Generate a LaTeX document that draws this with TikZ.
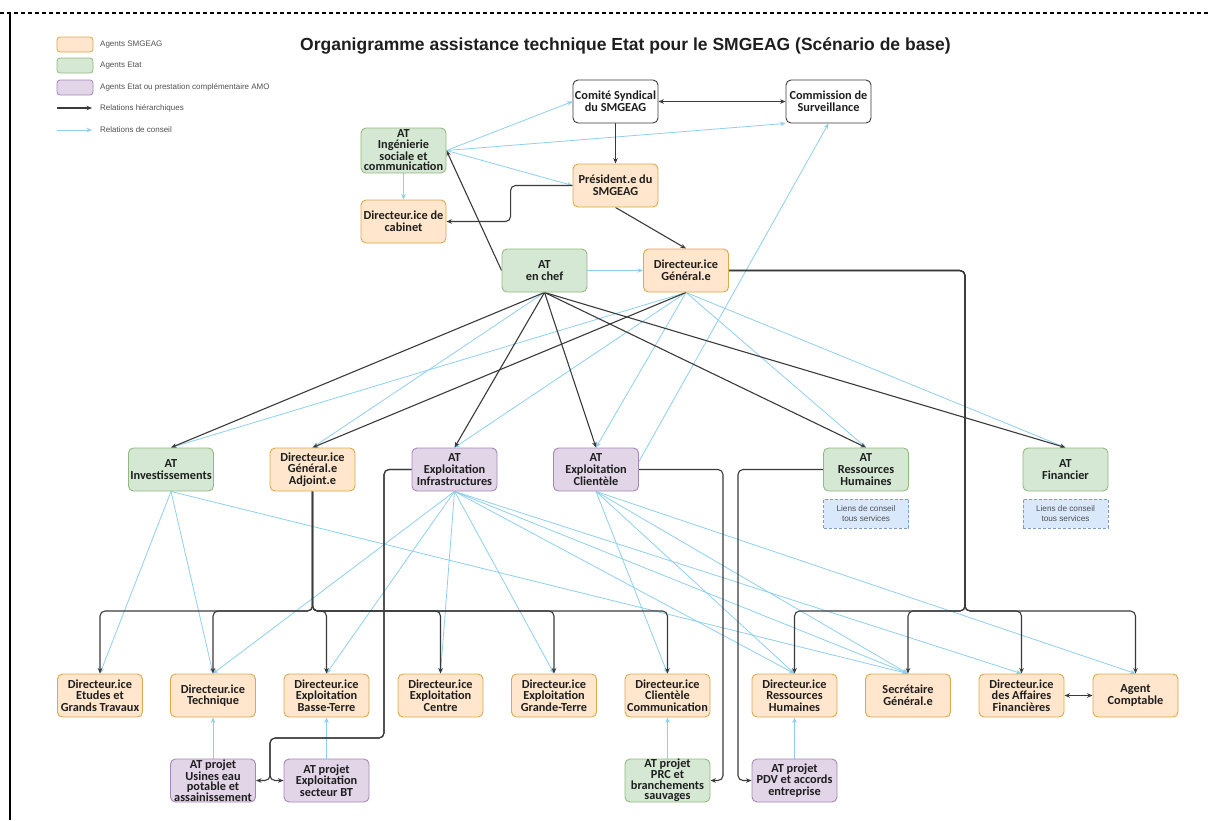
\documentclass[tikz,border=0pt]{standalone}
\usepackage{fontspec}
\setmainfont{Carlito}
\newfontfamily\arialf{Liberation Sans}
\usetikzlibrary{arrows.meta,calc}
\definecolor{orfill}{HTML}{FFE6CC}
\definecolor{ordraw}{HTML}{DCA94C}
\definecolor{grfill}{HTML}{D5E8D4}
\definecolor{grdraw}{HTML}{93BA7E}
\definecolor{prfill}{HTML}{E1D5E7}
\definecolor{prdraw}{HTML}{A686B5}
\definecolor{whdraw}{HTML}{3A3A3A}
\definecolor{lifill}{HTML}{DAE8FC}
\definecolor{lidraw}{HTML}{7C9CCB}
\definecolor{hiercol}{HTML}{3A3A3A}
\definecolor{bluecol}{HTML}{8ECFEE}
\definecolor{txtcol}{HTML}{1E1E1E}
\definecolor{legcol}{HTML}{505050}
\pgfdeclarelayer{bg}
\pgfsetlayers{bg,main}
\begin{document}
\begin{tikzpicture}[x=1pt,y=-1pt,
 nbox/.style={rectangle,rounded corners=5pt,minimum width=85pt,minimum height=43pt,inner sep=0pt,align=center,line width=0.9pt,text=txtcol,font=\bfseries\fontsize{12.3}{11.6}\selectfont},
 orng/.style={nbox,fill=orfill,draw=ordraw},
 grn/.style={nbox,fill=grfill,draw=grdraw},
 prp/.style={nbox,fill=prfill,draw=prdraw},
 wht/.style={nbox,fill=white,draw=whdraw},
 fourl/.style={font=\bfseries\fontsize{12.3}{10.6}\selectfont},
 liens/.style={rectangle,minimum width=85pt,minimum height=29pt,inner sep=0pt,align=center,fill=lifill,draw=lidraw,dash pattern=on 3pt off 2pt,line width=0.7pt,text=legcol,font=\arialf\fontsize{8.2}{10.5}\selectfont},
 hier/.style={draw=hiercol,line width=1.1pt,-{Stealth[length=5.5pt,width=4.5pt]}},
 dbl/.style={draw=hiercol,line width=1.1pt,{Stealth[length=5.5pt,width=4.5pt]}-{Stealth[length=5.5pt,width=4.5pt]}},
 cons/.style={draw=bluecol,line width=0.8pt,-{Stealth[length=5.5pt,width=4.5pt]}},
 legsw/.style={rectangle,rounded corners=3pt,minimum width=36pt,minimum height=15pt,inner sep=0pt,line width=0.8pt},
 legtxt/.style={anchor=west,inner sep=0pt,text=legcol,font=\arialf\fontsize{8}{9}\selectfont}
]
\useasboundingbox (0,0) rectangle (1209,820);

% frame of the screenshot
\draw[black,line width=1.8pt,dash pattern=on 4pt off 3pt] (0,13) -- (1209,13);
\draw[black,line width=1.8pt] (10,12) -- (10,820);

% title
\node[anchor=west,inner sep=0pt,text=txtcol,font=\arialf\bfseries\fontsize{17.5}{20}\selectfont] (title) at (300,46) {Organigramme assistance technique Etat pour le SMGEAG (Sc\'enario de base)};

% legend
\node[legsw,fill=orfill,draw=ordraw] (lg1) at (75,44.5) {};
\node[legsw,fill=grfill,draw=grdraw] (lg2) at (75,65.5) {};
\node[legsw,fill=prfill,draw=prdraw] (lg3) at (75,87.5) {};
\node[legtxt] (lt1) at (100,44.5) {Agents SMGEAG};
\node[legtxt] (lt2) at (100,65.5) {Agents Etat};
\node[legtxt] (lt3) at (100,87.5) {Agents Etat ou prestation compl\'ementaire AMO};
\node[legtxt] (lt4) at (100,108) {Relations hi\'erarchiques};
\node[legtxt] (lt5) at (100,130) {Relations de conseil};
\coordinate (la1) at (57,108); \coordinate (lb1) at (92,108);
\coordinate (la2) at (57,130); \coordinate (lb2) at (92,130);
\draw[hier] (la1) -- (lb1);
\draw[cons] (la2) -- (lb2);

% top nodes
\node[wht] (comite) at (615.5,101.5) {Comit\'e Syndical\\du SMGEAG};
\node[wht] (commission) at (828.5,101.5) {Commission de\\Surveillance};
\node[grn,fourl,minimum height=45pt] (inge) at (403.5,150.5) {AT\\Ing\'enierie\\sociale et\\communication};
\node[orng] (president) at (615.5,185.5) {Pr\'esident.e du\\SMGEAG};
\node[orng] (cabinet) at (403.5,221.5) {Directeur.ice de\\cabinet};
\node[grn] (chef) at (544.5,270.5) {AT\\en chef};
\node[orng] (dg) at (686,270.5) {Directeur.ice\\G\'en\'eral.e};

% second row
\node[grn] (invest) at (171,469.5) {AT\\Investissements};
\node[orng] (dga) at (312.5,469.5) {Directeur.ice\\G\'en\'eral.e\\Adjoint.e};
\node[prp] (infra) at (454.5,469.5) {AT\\Exploitation\\Infrastructures};
\node[prp] (client) at (596,469.5) {AT\\Exploitation\\Client\`ele};
\node[grn] (atrh) at (866,469.5) {AT\\Ressources\\Humaines};
\node[grn] (atfin) at (1065.5,469.5) {AT\\Financier};
\node[liens] (liens1) at (866,513.5) {Liens de conseil\\tous services};
\node[liens] (liens2) at (1065.5,513.5) {Liens de conseil\\tous services};

% third row
\node[orng] (etudes) at (100,695.5) {Directeur.ice\\Etudes et\\Grands Travaux};
\node[orng] (tech) at (213,695.5) {Directeur.ice\\Technique};
\node[orng] (basse) at (326.5,695.5) {Directeur.ice\\Exploitation\\Basse-Terre};
\node[orng] (centre) at (440.5,695.5) {Directeur.ice\\Exploitation\\Centre};
\node[orng] (grande) at (554,695.5) {Directeur.ice\\Exploitation\\Grande-Terre};
\node[orng] (dcc) at (667.5,695.5) {Directeur.ice\\Client\`ele\\Communication};
\node[orng] (drh) at (794.5,695.5) {Directeur.ice\\Ressources\\Humaines};
\node[orng] (sg) at (908,695.5) {Secr\'etaire\\G\'en\'eral.e};
\node[orng] (daf) at (1021.5,695.5) {Directeur.ice\\des Affaires\\Financi\`eres};
\node[orng] (ac) at (1135.5,695.5) {Agent\\Comptable};

% bottom row
\node[prp,fourl] (usines) at (213,780.5) {AT projet\\Usines eau\\potable et\\assainissement};
\node[prp] (bt) at (326.5,780.5) {AT projet\\Exploitation\\secteur BT};
\node[grn,fourl] (prc) at (667.5,780.5) {AT projet\\PRC et\\branchements\\sauvages};
\node[prp] (pdv) at (794.5,780.5) {AT projet\\PDV et accords\\entreprise};

% routing points
\coordinate (dgbus) at (965,611);
\coordinate (dgabus) at (312.5,611);
\coordinate (infA) at (384,738);
\coordinate (infB) at (270,780.5);
\coordinate (cliB) at (723,780.5);
\coordinate (rhB) at (738,780.5);

\begin{pgfonlayer}{bg}
% advisory relations
\draw[cons] (inge.east) -- (comite.west);
\draw[cons] (inge.east) -- (president.west);
\draw[cons] (inge.east) -- (commission.south west);
\draw[cons] (inge.south) -- (cabinet.north);
\draw[cons] (chef.east) -- (dg.west);
\draw[cons] (chef.south) -- (dga.north);
\foreach \t in {invest,infra,client,atrh,atfin} \draw[cons] (dg.south) -- (\t.north);
\draw[cons] ($(client.east)+(0,-8)$) -- (commission.south);
\foreach \t in {etudes,tech,sg} \draw[cons] (invest.south) -- (\t.north);
\foreach \t in {tech,basse,centre,grande,drh,sg,daf} \draw[cons] (infra.south) -- (\t.north);
\foreach \t in {dcc,drh,sg,ac} \draw[cons] (client.south) -- (\t.north);
\draw[cons] (usines.north) -- (tech.south);
\draw[cons] (bt.north) -- (basse.south);
\draw[cons] (prc.north) -- (dcc.south);
\draw[cons] (pdv.north) -- (drh.south);

% hierarchical relations
\draw[dbl] (comite.east) -- (commission.west);
\draw[hier] (comite.south) -- (president.north);
\draw[hier] (president.south) -- (dg.north);
\draw[hier,rounded corners=5pt] (president.west) -- ++(-62,0) |- (cabinet.east);
\draw[hier] (chef.west) -- (inge.east);
\foreach \t in {invest,infra,client,atrh,atfin} \draw[hier] (chef.south) -- (\t.north);
\draw[hier] (dg.south) -- (dga.north);
\foreach \t in {drh,sg,daf,ac} \draw[hier,rounded corners=5pt] (dg.east) -| (dgbus) -| (\t.north);
\foreach \t in {etudes,tech,basse,centre,grande,dcc} \draw[hier,rounded corners=5pt] (dga.south) -- (dgabus) -| (\t.north);
\draw[hier,rounded corners=5pt] (infra.west) -| (infA) -| (infB) -- (usines.east);
\draw[hier,rounded corners=5pt] (infra.west) -| (infA) -| (infB) -- (bt.west);
\draw[hier,rounded corners=5pt] (client.east) -| (cliB) -- (prc.east);
\draw[hier,rounded corners=5pt] (atrh.west) -| (rhB) -- (pdv.west);
\draw[dbl] (daf.east) -- (ac.west);
\end{pgfonlayer}
\end{tikzpicture}
\end{document}
